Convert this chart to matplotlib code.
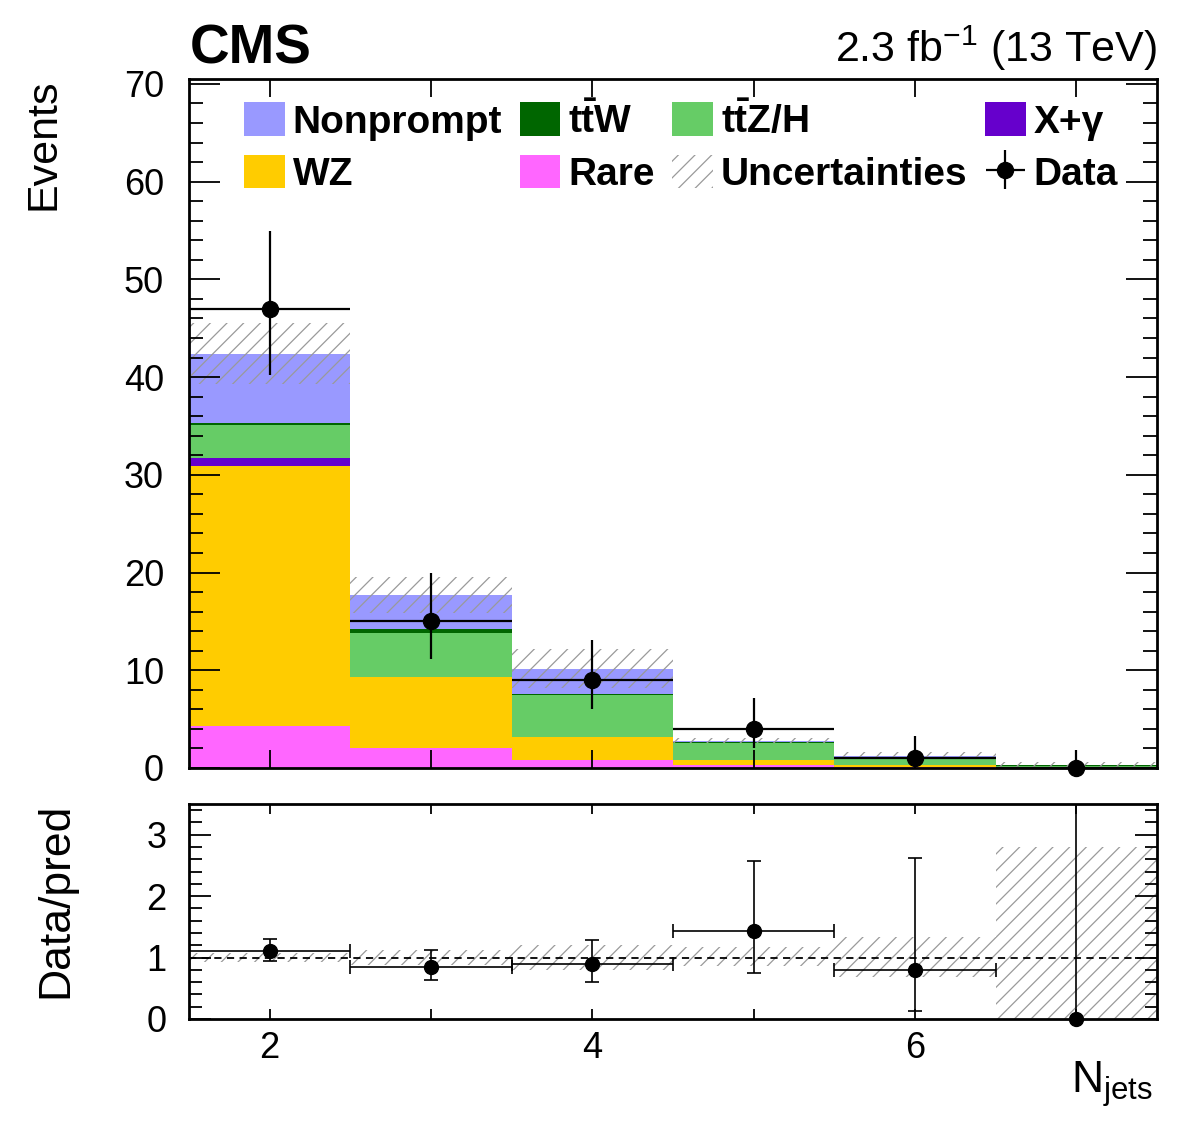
import matplotlib
matplotlib.use("Agg")
import matplotlib.pyplot as plt
import numpy as np
from matplotlib.patches import Patch
from matplotlib.ticker import MultipleLocator

plt.rcParams.update({
    "font.family": "Liberation Sans",
    "mathtext.fontset": "custom",
    "mathtext.rm": "Liberation Sans",
    "mathtext.bf": "Liberation Sans:bold",
    "mathtext.it": "Liberation Sans:italic",
    "hatch.linewidth": 0.9,
    "axes.linewidth": 2.0,
})

# ---- values ----
njets = [2, 3, 4, 5, 6, 7]
rare = [4.3, 2.0, 0.85, 0.34, 0.14, 0.02]
wz = [26.6, 7.3, 2.28, 0.51, 0.13, 0.03]
xgamma = [0.8, 0.05, 0.0, 0.0, 0.0, 0.0]
ttzh = [3.4, 4.5, 4.32, 1.75, 0.63, 0.20]
ttw = [0.25, 0.4, 0.10, 0.05, 0.05, 0.02]
nonprompt = [7.05, 3.45, 2.59, 0.14, 0.31, 0.02]
syst = [3.1, 1.85, 2.0, 0.27, 0.34, 0.29]
data = [47, 15, 9, 4, 1, 0]
data_lo = [6.83, 3.83, 2.94, 1.91, 0.83, 0.0]
data_hi = [7.90, 4.95, 4.11, 3.16, 2.30, 1.84]
band_lo = [0.93, 0.88, 0.80, 0.87, 0.68, 0.0]
band_hi = [1.08, 1.12, 1.20, 1.17, 1.33, 2.8]

C_RARE, C_WZ, C_XG = "#ff66ff", "#ffcc00", "#6600cc"
C_TTZ, C_TTW, C_NP = "#66cc66", "#006600", "#9999ff"
C_HATCH = "#9a9a9a"

fig = plt.figure(figsize=(11.82, 11.21), dpi=100)
ax = fig.add_axes([0.1599, 0.3149, 0.8190, 0.6146])
rax = fig.add_axes([0.1599, 0.0910, 0.8190, 0.1918])

# stacked prediction
bottom = np.zeros(len(njets))
for vals, c in [(rare, C_RARE), (wz, C_WZ), (xgamma, C_XG), (ttzh, C_TTZ),
                (ttw, C_TTW), (nonprompt, C_NP)]:
    ax.bar(njets, vals, width=1.0, bottom=bottom, color=c, linewidth=0)
    bottom += np.array(vals)
total = bottom
syst = np.array(syst)
ax.bar(njets, 2 * syst, width=1.0, bottom=total - syst, facecolor="none",
       edgecolor=C_HATCH, linewidth=0, hatch="//")

dat = ax.errorbar(njets, data, xerr=0.5, yerr=[data_lo, data_hi], fmt="o", color="k",
                  ms=11.5, elinewidth=1.6, capsize=0, clip_on=False, zorder=5)

ax.set_xlim(1.5, 7.5)
ax.set_ylim(0, 70.5)
ax.xaxis.set_major_locator(MultipleLocator(2))
ax.xaxis.set_minor_locator(MultipleLocator(1))
ax.yaxis.set_major_locator(MultipleLocator(10))
ax.yaxis.set_minor_locator(MultipleLocator(2))
ax.tick_params(which="both", direction="in", top=True, right=True, width=1.3, labelsize=26)
ax.tick_params(axis="y", which="major", length=22, pad=18)
ax.tick_params(axis="y", which="minor", length=10)
ax.tick_params(axis="x", which="both", length=13, labelbottom=False)

handles = [Patch(fc=C_NP), Patch(fc=C_WZ), Patch(fc=C_TTW), Patch(fc=C_RARE),
           Patch(fc=C_TTZ), Patch(fc="none", ec=C_HATCH, lw=0, hatch="//"),
           Patch(fc=C_XG), dat]
labels = ["Nonprompt", "WZ", r"$\mathbf{t\bar{t}W}$", "Rare",
          r"$\mathbf{t\bar{t}Z/H}$", "Uncertainties", "X+γ", "Data"]
ax.legend(handles, labels, ncol=4, loc="upper left", bbox_to_anchor=(0.0568, 0.968),
          frameon=False, prop={"family": "Liberation Sans", "weight": "bold", "size": 28},
          handlelength=1.05, handleheight=0.95, handletextpad=0.2, columnspacing=0.45,
          labelspacing=0.36, borderpad=0, borderaxespad=0)

# ratio panel
data = np.array(data, dtype=float)
ratio = data / total
r_lo = np.array(data_lo) / total
r_hi = np.array(data_hi) / total
band_lo = np.array(band_lo)
band_hi = np.array(band_hi)
rax.bar(njets, band_hi - band_lo, width=1.0, bottom=band_lo, facecolor="none",
        edgecolor=C_HATCH, linewidth=0, hatch="//")
rax.axhline(1.0, color="k", ls=(0, (4, 3)), lw=1.3)
has_x = data > 0
rax.errorbar(np.array(njets)[has_x], ratio[has_x], xerr=0.5,
             yerr=[r_lo[has_x], r_hi[has_x]], fmt="none", ecolor="k", elinewidth=1.2,
             capsize=5, capthick=1.2)
rax.errorbar(np.array(njets)[~has_x], ratio[~has_x], yerr=[r_lo[~has_x], r_hi[~has_x]],
             fmt="none", ecolor="k", elinewidth=1.2, capsize=0)
rax.plot(njets, ratio, "o", color="k", ms=10, clip_on=False, zorder=5)

rax.set_xlim(1.5, 7.5)
rax.set_ylim(0, 3.5)
rax.xaxis.set_major_locator(MultipleLocator(2))
rax.xaxis.set_minor_locator(MultipleLocator(1))
rax.yaxis.set_major_locator(MultipleLocator(1))
rax.yaxis.set_minor_locator(MultipleLocator(0.2))
rax.tick_params(which="both", direction="in", top=True, right=True, width=1.3, labelsize=26)
rax.tick_params(axis="y", which="major", length=16, pad=16)
rax.tick_params(axis="y", which="minor", length=9)
rax.tick_params(axis="x", which="both", length=7, pad=9)

# texts
fig.text(190 / 1182, 1 - 63 / 1121, "CMS", fontsize=39.5, fontweight="bold", va="baseline")
fig.text(1157 / 1182, 1 - 62 / 1121, r"2.3 fb$^{-1}$ (13 TeV)", fontsize=31,
         ha="right", va="baseline")
fig.text(44 / 1182, 1 - 79 / 1121, "Events", fontsize=31, rotation=90, ha="center", va="top")
fig.text(56 / 1182, 1 - 803 / 1121, "Data/pred", fontsize=32, rotation=90,
         ha="center", va="top")
fig.text(1153 / 1182, 1 - 1093 / 1121, r"N$_{\mathrm{jets}}$", fontsize=32,
         ha="right", va="baseline")

fig.savefig("out.png", dpi=100)
